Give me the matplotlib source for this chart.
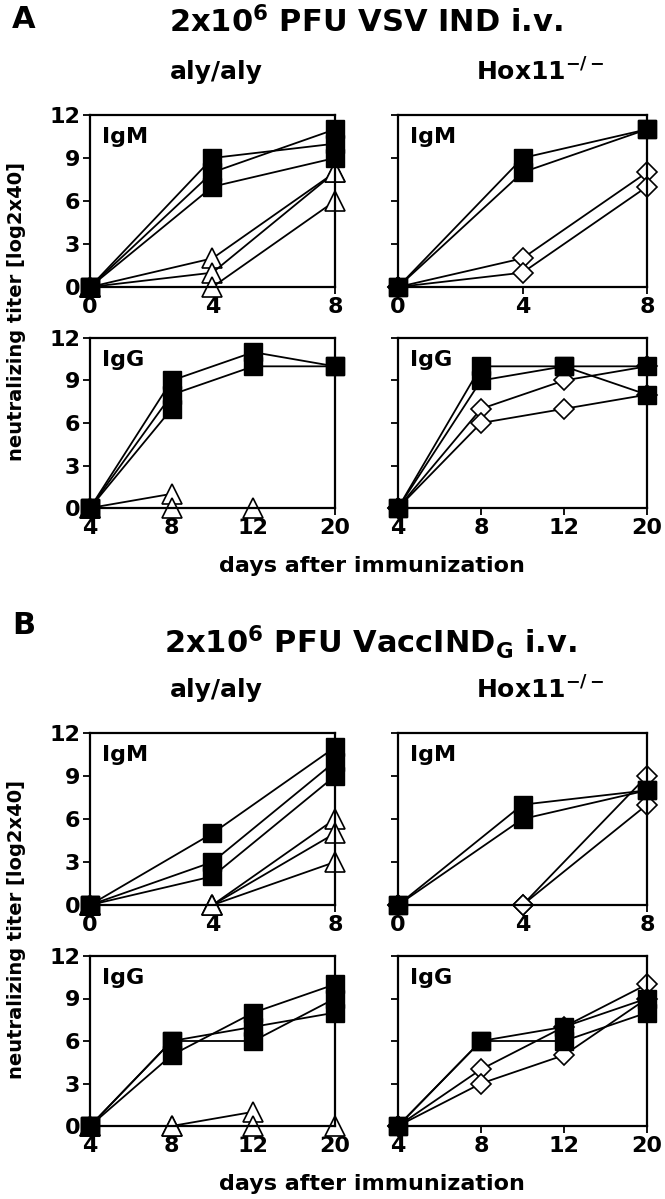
import numpy as np
import matplotlib
matplotlib.use("Agg")
import matplotlib.pyplot as plt

plt.rcParams["font.family"] = ["DejaVu Sans"]
plt.rcParams["font.weight"] = "bold"
plt.rcParams["mathtext.fontset"] = "custom"
plt.rcParams["mathtext.bf"] = "DejaVu Sans:bold"
plt.rcParams["mathtext.rm"] = "DejaVu Sans:bold"

nan = np.nan

# x positions / tick labels
igm_days = [0, 4, 8]
igg_days = ["4", "8", "12", "20"]

# Panel A: VSV IND
a_aly_igm_sq = [[0, 9, 10], [0, 8, 11], [0, 7, 9]]
a_aly_igm_tri = [[0, 2, 8], [0, 1, 8], [0, 0, 6]]
a_hox_igm_sq = [[0, 9, 11], [0, 8, 11]]
a_hox_igm_dia = [[0, 2, 8], [0, 1, 7]]
a_aly_igg_sq = [[0, 9, 11, 10], [0, 8, 10, 10], [0, 7, nan, nan]]
a_aly_igg_tri = [[0, 1, nan, nan], [0, 0, 0, nan]]
a_hox_igg_sq = [[0, 10, 10, 10], [0, 9, 10, 8]]
a_hox_igg_dia = [[0, 7, 9, 10], [0, 6, 7, 8]]

# Panel B: VaccIND_G
b_aly_igm_sq = [[0, 5, 11], [0, 3, 10], [0, 2, 9]]
b_aly_igm_tri = [[0, 0, 6], [0, 0, 5], [0, 0, 3]]
b_hox_igm_sq = [[0, 7, 8], [0, 6, 8]]
b_hox_igm_dia = [[0, 0, 9], [0, 0, 7]]
b_aly_igg_sq = [[0, 5, 8, 10], [0, 6, 7, 8], [0, 6, 6, 9]]
b_aly_igg_tri = [[0, 0, 1, nan], [0, 0, 0, 0]]
b_hox_igg_sq = [[0, 6, 6, 8], [0, 6, 7, 9]]
b_hox_igg_dia = [[0, 4, 7, 10], [0, 3, 5, 9]]

W, H = 665, 1199
fig = plt.figure(figsize=(W / 100, H / 100), dpi=100)


def px_axes(x0, x1, y0, y1):
    return fig.add_axes([x0 / W, 1 - y1 / H, (x1 - x0) / W, (y1 - y0) / H])


def draw_series(ax, x, series, marker):
    for ys in series:
        if marker == "s":
            kw = dict(marker="s", ms=13.5, mfc="black", mec="black")
        elif marker == "^":
            kw = dict(marker="^", ms=15, mfc="white", mec="black", mew=1.2)
        else:
            kw = dict(marker="D", ms=10, mfc="white", mec="black", mew=1.2)
        ax.plot(x, ys, color="black", lw=1.3, clip_on=False, **kw)


def style(ax, label, xticks, xlabels, left):
    ax.set_ylim(0, 12)
    ax.set_yticks([0, 3, 6, 9, 12])
    ax.set_xticks(xticks)
    ax.set_xticklabels(xlabels)
    if not left:
        ax.set_yticklabels([])
    ax.tick_params(direction="out", length=5, width=1.3, labelsize=16, pad=2)
    for s in ax.spines.values():
        s.set_linewidth(1.6)
    for t in ax.get_xticklabels() + ax.get_yticklabels():
        t.set_fontweight("bold")
    ax.text(0.05, 0.93, label, transform=ax.transAxes, fontsize=16,
            fontweight="bold", va="top", ha="left")


def panel(top, igm_sets, igg_sets):
    igm_top = top
    igg_top = top + 223
    for col, (x0, x1) in enumerate([(90, 335), (398, 647)]):
        ax = px_axes(x0, x1, igm_top, igm_top + 172)
        sq, other, mk = igm_sets[col]
        draw_series(ax, igm_days, other, mk)
        draw_series(ax, igm_days, sq, "s")
        ax.set_xlim(0, 8)
        style(ax, "IgM", igm_days, [str(d) for d in igm_days], col == 0)

        ax = px_axes(x0, x1, igg_top, igg_top + 170)
        sq, other, mk = igg_sets[col]
        xs = np.arange(len(igg_days))
        draw_series(ax, xs, other, mk)
        draw_series(ax, xs, sq, "s")
        ax.set_xlim(0, len(igg_days) - 1)
        style(ax, "IgG", xs, igg_days, col == 0)
    fig.text(17 / W, 1 - (igm_top + igg_top + 170) / 2 / H,
             "neutralizing titer [log2x40]", rotation=90, fontsize=14,
             fontweight="bold", ha="center", va="center")
    fig.text(372 / W, 1 - (igg_top + 228) / H, "days after immunization",
             fontsize=16, fontweight="bold", ha="center", va="center")
    fig.text(216 / W, 1 - (top - 43) / H, "aly/aly", fontsize=18,
             fontweight="bold", ha="center", va="center")
    fig.text(540 / W, 1 - (top - 43) / H, r"Hox11$^{\mathbf{-/-}}$", fontsize=18,
             fontweight="bold", ha="center", va="center")


panel(115,
      [(a_aly_igm_sq, a_aly_igm_tri, "^"), (a_hox_igm_sq, a_hox_igm_dia, "D")],
      [(a_aly_igg_sq, a_aly_igg_tri, "^"), (a_hox_igg_sq, a_hox_igg_dia, "D")])
panel(733,
      [(b_aly_igm_sq, b_aly_igm_tri, "^"), (b_hox_igm_sq, b_hox_igm_dia, "D")],
      [(b_aly_igg_sq, b_aly_igg_tri, "^"), (b_hox_igg_sq, b_hox_igg_dia, "D")])

fig.text(24 / W, 1 - 20 / H, "A", fontsize=22, fontweight="bold",
         ha="center", va="center")
fig.text(366 / W, 1 - 22 / H, r"2x10$^{\mathbf{6}}$ PFU VSV IND i.v.",
         fontsize=22, fontweight="bold", ha="center", va="center")
fig.text(24 / W, 1 - 625 / H, "B", fontsize=22, fontweight="bold",
         ha="center", va="center")
fig.text(370 / W, 1 - 642 / H, r"2x10$^{\mathbf{6}}$ PFU VaccIND$_{\mathbf{G}}$ i.v.",
         fontsize=22, fontweight="bold", ha="center", va="center")

fig.savefig("out.png", dpi=100, facecolor="white")
